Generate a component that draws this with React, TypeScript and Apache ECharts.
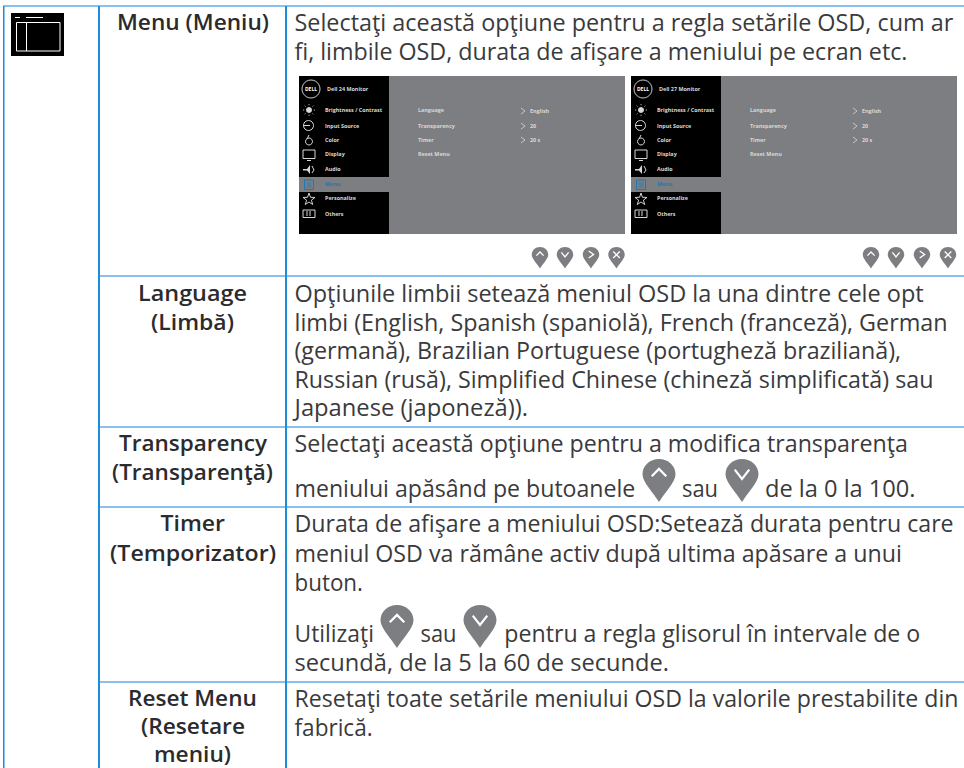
import React, { useEffect, useRef } from "react";
import * as echarts from "echarts";

const LABEL_LINES = [
  "Menu (Meniu)", "Language", "(Limbă)", "Transparency", "(Transparenţă)",
  "Timer", "(Temporizator)", "Reset Menu", "(Resetare", "meniu)",
];
const BODY_LINES = [
  "Selectaţi această opţiune pentru a regla setările OSD, cum ar",
  "fi, limbile OSD, durata de afişare a meniului pe ecran etc.",
  "Opţiunile limbii setează meniul OSD la una dintre cele opt",
  "limbi (English, Spanish (spaniolă), French (franceză), German",
  "(germană), Brazilian Portuguese (portugheză braziliană),",
  "Russian (rusă), Simplified Chinese (chineză simplificată) sau",
  "Japanese (japoneză)).",
  "Selectaţi această opţiune pentru a modifica transparenţa",
  "meniului apăsând pe butoanele",
  "sau",
  "de la 0 la 100.",
  "Durata de afişare a meniului OSD:Setează durata pentru care",
  "meniul OSD va rămâne activ după ultima apăsare a unui",
  "buton.",
  "Utilizaţi",
  "sau",
  "pentru a regla glisorul în intervale de o",
  "secundă, de la 5 la 60 de secunde.",
  "Resetaţi toate setările meniului OSD la valorile prestabilite din",
  "fabrică.",
];
const OSD_MENU = ["Brightness / Contrast", "Input Source", "Color", "Display", "Audio", "Menu", "Personalize", "Others"];
const OSD_ITEMS = ["Language", "Transparency", "Timer", "Reset Menu"];
const OSD_VALUES = ["English", "20", "20 s"];
const OSD_TITLES = ["Dell 24 Monitor", "Dell 27 Monitor"];
const BUTTONS = ["up", "down", "right", "close"];

// layout, apart from the content above
const FONT = "Open Sans";
const LABEL_BOX: [number, number, number][] = [
  [22, 117, 269], [293, 138, 247], [322, 151, 234], [443, 119, 267], [472, 112, 273],
  [523, 160.5, 225], [553, 110, 276], [698, 128, 257], [726, 141, 245], [754, 154, 231],
];
const BODY_BOX: [number, number, number][] = [
  [22, 294.5, 953.5], [51, 294.5, 908], [293, 294.5, 924], [322, 294.5, 948], [350, 294.5, 901.7],
  [379, 294.5, 934], [407, 294.5, 528], [443, 294.5, 908], [488, 294.5, 635.7], [488, 682, 718],
  [488, 765, 915.7], [523, 294.5, 954], [553, 294.5, 901.7], [582, 294.5, 363], [633, 294.5, 374],
  [633, 420.5, 456.5], [633, 504.3, 920.5], [662, 294.5, 669], [698, 294.5, 959], [727, 294.5, 372.7],
];
const OSD_MENU_Y = [110, 126, 140, 154, 169, 184, 198, 214];
const OSD_ITEMS_Y = [110, 126, 140, 154];
const OSD_VALUES_Y = [111, 126, 140];
const OSD_DX = [0, 332];
const SMALL_PIN_X = [[540, 565, 591, 616.5], [871, 896, 922, 948]];
const BIG_PIN_XY: [number, number, number][] = [[659, 459, 0], [742, 459, 1], [397, 605, 0], [480, 605, 1]];

echarts.graphic.registerShape(
  "pin",
  echarts.graphic.extendPath(
    "M50 0 C78 0 100 20 100 47 C100 70 66 104 50 130 C34 104 0 70 0 47 C0 20 22 0 50 0 Z",
    {}
  ) as any
);
echarts.graphic.registerShape(
  "star",
  echarts.graphic.extendPath("M50 0 L62 36 L100 37 L70 60 L81 96 L50 75 L19 96 L30 60 L0 37 L38 36 Z", {}) as any
);

const GLYPH: Record<string, number[][][]> = {
  up: [[[28, 52], [50, 30], [72, 52]]],
  down: [[[28, 32], [50, 60], [72, 32]]],
  right: [[[36, 24], [66, 45], [36, 66]]],
  close: [[[30, 27], [70, 67]], [[70, 27], [30, 67]]],
};

const ctx = document.createElement("canvas").getContext("2d")!;
function fitText(text: string, y: number, x0: number, x1: number, size: number, fill: string, weight: number) {
  ctx.font = `${weight} ${size}px "${FONT}"`;
  const w = ctx.measureText(text).width;
  return {
    type: "text", x: x0, y, scaleX: (x1 - x0) / w,
    style: { text, fontFamily: FONT, fontSize: size, fill, fontWeight: weight, align: "left", verticalAlign: "middle" },
  };
}

function pin(x: number, y: number, w: number, h: number, kind: string) {
  const sx = w / 100;
  const sy = h / 130;
  const out: any[] = [{ type: "pin", x: x - w / 2, y, scaleX: sx, scaleY: sy, style: { fill: "#7d7e81" } }];
  GLYPH[kind].forEach((pts) =>
    out.push({
      type: "polyline",
      shape: { points: pts.map(([a, b]) => [x - w / 2 + a * sx, y + b * sy]) },
      style: { fill: "none", stroke: "#fff", lineWidth: w > 20 ? 2.2 : 1.3 },
    })
  );
  return out;
}
function line(x1: number, y1: number, x2: number, y2: number, stroke: string, lineWidth = 1) {
  return { type: "line", shape: { x1, y1, x2, y2 }, style: { stroke, lineWidth, fill: "none" } };
}
function rect(x: number, y: number, width: number, height: number, fill: string, stroke?: string, lineWidth = 1) {
  return { type: "rect", shape: { x, y, width, height }, style: stroke ? { fill, stroke, lineWidth } : { fill } };
}
function small(text: string, x: number, y: number, fill: string) {
  return { type: "text", x, y, style: { text, fontFamily: FONT, fontSize: 5.4, fontWeight: 700, fill, verticalAlign: "middle" } };
}

function osdPanel(dx: number, title: string) {
  const W = "#d8d8d8";
  const B = "#1f78b4";
  const o: any[] = [];
  o.push(rect(299 + dx, 76, 326, 158, "#7d7e81"));
  o.push(rect(299 + dx, 76, 90, 101, "#000"));
  o.push(rect(299 + dx, 192, 90, 42, "#000"));
  o.push({ type: "circle", shape: { cx: 311 + dx, cy: 89, r: 9 }, style: { fill: "none", stroke: "#fff", lineWidth: 0.8 } });
  o.push({ type: "text", x: 311 + dx, y: 89, style: { text: "DELL", fontFamily: FONT, fontSize: 5, fontWeight: 700, fill: "#fff", align: "center", verticalAlign: "middle" } });
  o.push(small(title, 327 + dx, 89, W));
  OSD_MENU.forEach((t, i) => o.push(small(t, 325 + dx, OSD_MENU_Y[i], t === "Menu" ? B : W)));
  OSD_ITEMS.forEach((t, i) => o.push(small(t, 418 + dx, OSD_ITEMS_Y[i], W)));
  OSD_VALUES.forEach((t, i) => {
    const y = OSD_VALUES_Y[i];
    o.push(small(t, 530 + dx, y, W));
    o.push({ type: "polyline", shape: { points: [[521 + dx, y - 3], [525 + dx, y], [521 + dx, y + 3]] }, style: { fill: "none", stroke: W, lineWidth: 0.8 } });
  });
  const cx = 309 + dx;
  const s = { fill: "none", stroke: W, lineWidth: 1 };
  o.push({ type: "circle", shape: { cx, cy: 110, r: 3 }, style: { fill: W } });
  [[0, -6], [0, 6], [-6, 0], [6, 0], [-4.3, -4.3], [4.3, 4.3], [-4.3, 4.3], [4.3, -4.3]].forEach(([a, b]) =>
    o.push(line(cx + a * 0.8, 110 + b * 0.8, cx + a, 110 + b, W, 0.8))
  );
  o.push({ type: "circle", shape: { cx: cx - 0.5, cy: 125.5, r: 5 }, style: s });
  o.push(line(cx - 6, 125.5, cx + 1, 125.5, W, 1));
  o.push({ type: "circle", shape: { cx, cy: 141.5, r: 3.5 }, style: s });
  o.push(line(cx, 135, cx - 2, 139, W, 1));
  o.push({ type: "rect", shape: { x: cx - 6, y: 150, width: 12, height: 8.5 }, style: s });
  o.push(line(cx - 2, 160.5, cx + 2, 160.5, W, 1));
  o.push({ type: "polygon", shape: { points: [[cx - 6, 169], [cx - 2, 169], [cx + 1, 165], [cx + 1, 174], [cx - 2, 170.5], [cx - 6, 170.5]] }, style: { fill: W } });
  o.push({ type: "polyline", shape: { points: [[cx + 3, 166], [cx + 5, 170], [cx + 3, 173]] }, style: s });
  o.push({ type: "rect", shape: { x: cx - 4.5, y: 180, width: 9, height: 9.5 }, style: { fill: "none", stroke: B, lineWidth: 1 } });
  [183, 185, 187].forEach((y) => o.push(line(cx - 2.5, y, cx + 2.5, y, B, 0.7)));
  o.push({ type: "star", x: cx - 6, y: 193, scaleX: 0.12, scaleY: 0.12, style: { fill: "none", stroke: W, lineWidth: 8 } });
  o.push({ type: "rect", shape: { x: cx - 6, y: 210, width: 12, height: 7.5 }, style: { fill: "none", stroke: W, lineWidth: 1 } });
  o.push(line(cx - 2, 211, cx - 2, 216, W, 1));
  o.push(line(cx + 1, 211, cx + 1, 216, W, 1));
  return o;
}

export default function App() {
  const ref = useRef<HTMLDivElement>(null);
  useEffect(() => {
    const chart = echarts.init(ref.current!, undefined, { renderer: "svg" });
    const VB = "#1a8fd8";
    const HB = "#8cc0ec";
    const g: any[] = [];
    g.push(rect(0, 0, 964, 768, "#fff"));
    g.push(rect(3, 5, 961, 2, HB));
    [275, 426, 506, 681].forEach((y) => g.push(rect(99, y, 865, 2, HB)));
    g.push(rect(3, 6, 1.5, 762, VB));
    g.push(rect(98, 6, 2, 762, VB));
    g.push(rect(285, 6, 2, 762, VB));
    g.push(rect(11, 13, 53, 43, "#000"));
    g.push(rect(16.5, 22.5, 43.5, 28.5, "none", "#fff", 1));
    g.push(line(26.5, 23, 26.5, 51, "#fff", 1));
    g.push(line(15, 17.5, 20, 17.5, "#fff", 1));
    g.push(line(26, 17.5, 43, 17.5, "#fff", 1));
    LABEL_LINES.forEach((t, i) => {
      const [y, a, b] = LABEL_BOX[i];
      g.push(fitText(t, y, a, b, 22, "#2b2b2d", 600));
    });
    BODY_LINES.forEach((t, i) => {
      const [y, a, b] = BODY_BOX[i];
      g.push(fitText(t, y, a, b, 23, "#3a3a3c", 400));
    });
    OSD_DX.forEach((dx, i) => g.push(...osdPanel(dx, OSD_TITLES[i])));
    SMALL_PIN_X.forEach((xs) => xs.forEach((x, i) => g.push(...pin(x, 247, 16.5, 21.5, BUTTONS[i]))));
    BIG_PIN_XY.forEach(([x, y, k]) => g.push(...pin(x, y, 33, 43, BUTTONS[k])));
    chart.setOption({ animation: false, graphic: { elements: g } });
    return () => chart.dispose();
  }, []);
  return <div ref={ref} style={{ position: "absolute", left: 0, top: 0, width: 964, height: 768 }} />;
}
